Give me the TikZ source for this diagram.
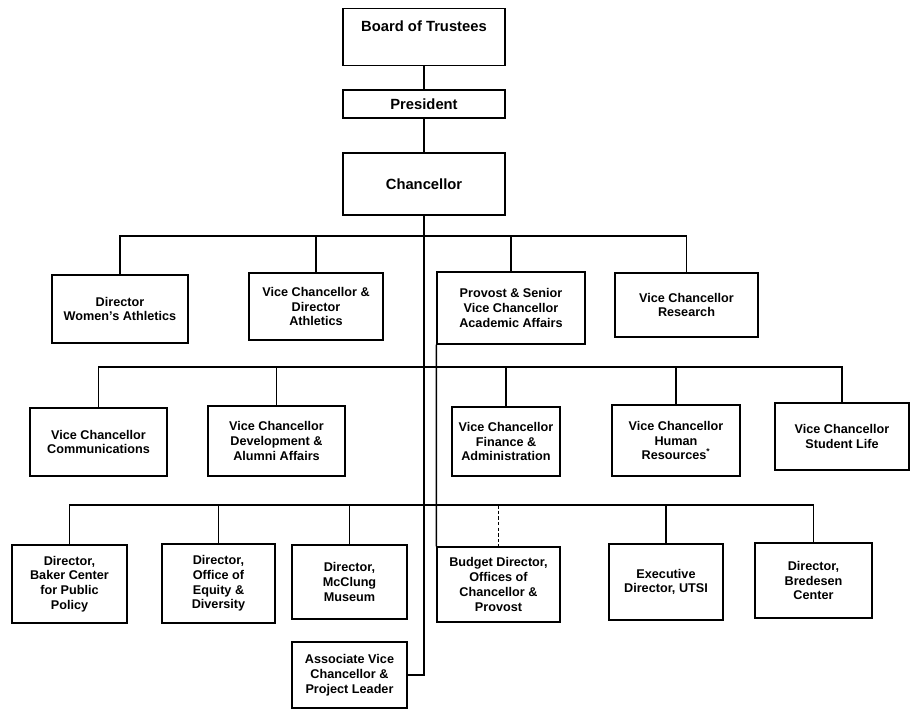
\documentclass[tikz,border=0pt]{standalone}
\usepackage{fontspec}
\setmainfont{Liberation Sans}
\usepackage{tikz}
\usetikzlibrary{shapes,arrows}
\tikzstyle{head} = [rectangle,draw=black,line width=1pt,minimum width=4.05cm,inner sep=0pt,text centered,font=\fontsize{10.5}{12}\selectfont\bfseries]
\tikzstyle{unit} = [rectangle,draw=black,line width=1pt,inner sep=2pt,align=center,font=\fontsize{9}{10.5}\selectfont\bfseries]
\tikzstyle{link} = [line width=1.1pt]
\tikzstyle{dotlink} = [line width=1pt,dash pattern=on 2.5pt off 1.5pt]

\begin{document}
\begin{tikzpicture}[x=0.025cm,y=-0.025cm]
\useasboundingbox (0,0) rectangle (912,711);
\node (board) [head,anchor=north,inner ysep=8.3pt,text height=7.6pt,text depth=16.3pt] at (424,8) {Board of Trustees};
\node (pres) [head,minimum height=0.7cm] at (424,104) {President};
\node (chanc) [head,minimum height=1.55cm] at (424,184) {Chancellor};

% first row
\node (wath) [unit,minimum width=3.4cm,minimum height=1.7cm] at (120,309) {Director\\Women's Athletics};
\node (vcath) [unit,minimum width=3.35cm,minimum height=1.675cm] at (316,306.5) {Vice Chancellor \&\\Director\\Athletics};
\node (prov) [unit,minimum width=3.7cm,minimum height=1.8cm] at (511,308) {Provost \& Senior\\Vice Chancellor\\Academic Affairs};
\node (res) [unit,minimum width=3.575cm,minimum height=1.6cm] at (686.5,305) {Vice Chancellor\\Research};

% second row
\node (comm) [unit,minimum width=3.425cm,minimum height=1.7cm] at (98.5,442) {Vice Chancellor\\Communications};
\node (dev) [unit,minimum width=3.425cm,minimum height=1.75cm] at (276.5,441) {Vice Chancellor\\Development \&\\Alumni Affairs};
\node (fin) [unit,minimum width=2.7cm,minimum height=1.725cm] at (506,441.5) {Vice Chancellor\\Finance \&\\Administration};
\node (hr) [unit,minimum width=3.2cm,minimum height=1.775cm] at (676,440.5) {Vice Chancellor\\Human\\Resources\textsuperscript{*}};
\node (stud) [unit,minimum width=3.35cm,minimum height=1.675cm] at (842,436.5) {Vice Chancellor\\Student Life};

% third row
\node (baker) [unit,minimum width=2.875cm,minimum height=1.95cm] at (69.5,584) {Director,\\Baker Center\\for Public\\Policy};
\node (equity) [unit,minimum width=2.825cm,minimum height=1.975cm] at (218.5,583.5) {Director,\\Office of\\Equity \&\\Diversity};
\node (mcc) [unit,minimum width=2.875cm,minimum height=1.85cm] at (349.5,582) {Director,\\McClung\\Museum};
\node (budget) [unit,minimum width=3.075cm,minimum height=1.875cm] at (498.5,584.5) {Budget Director,\\Offices of\\Chancellor \&\\Provost};
\node (exec) [unit,minimum width=2.85cm,minimum height=1.9cm] at (666,582) {Executive\\Director, UTSI};
\node (bred) [unit,minimum width=2.925cm,minimum height=1.875cm] at (813.5,580.5) {Director,\\Bredesen\\Center};
\node (assoc) [unit,minimum width=2.875cm,minimum height=1.65cm] at (349.5,675) {Associate Vice\\Chancellor \&\\Project Leader};

\coordinate (bus1) at (424,236);
\coordinate (bus2) at (424,367);
\coordinate (bus3) at (424,505);

\draw [link] (board) -- (pres);
\draw [link] (pres) -- (chanc);
\draw [link] (chanc.south) -- (chanc.south |- assoc.east) -- (assoc.east);
\draw [link] (bus1) -| (wath.north);
\draw [link] (bus1) -| (vcath.north);
\draw [link] (bus1) -| (prov.north);
\draw [link] (bus1) -| (res.north);
\draw [link] (bus2) -| (comm.north);
\draw [link] (bus2) -| (dev.north);
\draw [link] (bus2) -| (fin.north);
\draw [link] (bus2) -| (hr.north);
\draw [link] (bus2) -| (stud.north);
\draw [link] (bus3) -| (baker.north);
\draw [link] (bus3) -| (equity.north);
\draw [link] (bus3) -| (mcc.north);
\draw [link] (bus3) -| (exec.north);
\draw [link] (bus3) -| (bred.north);
\draw [dotlink] (budget.north |- bus3) -- (budget.north);
\draw [link] (prov.south west) -- (budget.north west);
\end{tikzpicture}
\end{document}
